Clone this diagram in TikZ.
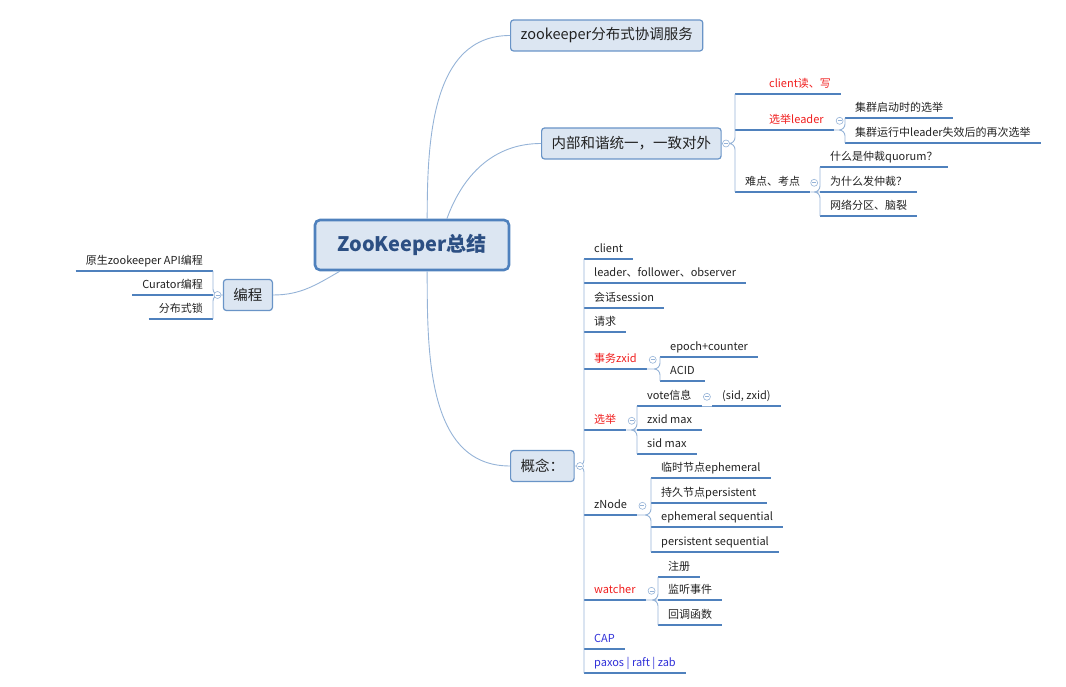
\documentclass[tikz,border=0pt]{standalone}
\usepackage{fontspec}
\setmainfont{Noto Sans CJK SC}
\usetikzlibrary{positioning}

\definecolor{boxblue}{HTML}{4F81BD}
\definecolor{boxfill}{HTML}{DCE6F2}
\definecolor{lineblue}{HTML}{95B3D7}
\definecolor{ulblue}{HTML}{4F81BD}
\definecolor{navy}{HTML}{2C4F83}
\definecolor{mmred}{HTML}{F01E1E}
\definecolor{mmblue}{HTML}{3030D8}
\definecolor{ink}{HTML}{222222}

\begin{document}
\begin{tikzpicture}[x=1pt, y=1pt,
    mainbox/.style={draw=boxblue, fill=boxfill, line width=2.6pt, rounded corners=5pt, minimum width=194pt, minimum height=50pt, text=navy, font=\fontsize{20}{22}\selectfont\bfseries},
    topicbox/.style={draw=boxblue!85, fill=boxfill, line width=1.2pt, rounded corners=3pt, minimum height=31pt, inner xsep=10pt, text=ink, font=\fontsize{14.5}{16}\selectfont},
    leafnode/.style={inner xsep=10pt, inner ysep=4pt, text height=8pt, text depth=2pt, text=ink, font=\fontsize{11}{13}\selectfont,
        append after command={(\tikzlastnode.south west) edge[uline] (\tikzlastnode.south east)}},
    fold/.style={circle, draw=lineblue, fill=white, line width=0.6pt, minimum size=7pt, inner sep=0pt,
        path picture={\draw[lineblue, line width=0.6pt] ([xshift=-2pt]path picture bounding box.center) -- ([xshift=2pt]path picture bounding box.center);}},
    trunk/.style={draw=lineblue, line width=0.9pt},
    twig/.style={draw=lineblue, line width=0.9pt, rounded corners=6pt},
    uline/.style={draw=ulblue, line width=1.6pt}
]
\useasboundingbox (0,0) rectangle (1066,686);

% main topics
\node[mainbox] (zk) at (412,441) {ZooKeeper总结};
\node[topicbox, anchor=west] (svc) at (510,650.5) {zookeeper分布式协调服务};
\node[topicbox, anchor=west] (inner) at (541,542.5) {内部和谐统一，一致对外};
\node[topicbox, anchor=east] (prog) at (273,391) {编程};
\node[topicbox, anchor=west] (cpt) at (510,220) {概念：};

\draw[trunk] (zk.60) to[out=90, in=180] (svc.west);
\draw[trunk] (zk.37) to[out=70, in=180] (inner.west);
\draw[trunk] (zk.-60) to[out=-90, in=180] (cpt.west);
\draw[trunk] (zk.-160) to[out=-150, in=0] (prog.east);

% inner
\node[leafnode, anchor=south west, text=mmred] (rw) at (735,592) {\hspace*{24pt}client读、写};
\node[leafnode, anchor=south west, text=mmred] (elect) at (735,556) {\hspace*{24pt}选举leader};
\node[leafnode, anchor=south west] (hard) at (735,494) {难点、考点};
\node[leafnode, anchor=south west] (boot) at (845,568) {集群启动时的选举};
\node[leafnode, anchor=south west] (rerun) at (845,543) {集群运行中leader失效后的再次选举};
\node[leafnode, anchor=south west] (quorum) at (820,519) {什么是仲裁quorum？};
\node[leafnode, anchor=south west] (why) at (820,494) {为什么发仲裁？};
\node[leafnode, anchor=south west] (split) at (820,470) {网络分区、脑裂};

\draw[twig] (inner.east) -| (rw.south west) (inner.east) -| (elect.south west) (inner.east) -| (hard.south west);
\draw[twig] (elect.south east) -| (boot.south west) (elect.south east) -| (rerun.south west);
\draw[twig] (hard.south east) -| (quorum.south west) (hard.south east) -- (why.south west) (hard.south east) -| (split.south west);

% prog
\node[leafnode, anchor=south east] (native) at (213,415) {原生zookeeper API编程};
\node[leafnode, anchor=south east] (curator) at (213,391) {Curator编程};
\node[leafnode, anchor=south east] (lock) at (213,367) {分布式锁};

\draw[twig] (prog.west) -| (native.south east) (prog.west) -- (curator.south east) (prog.west) -| (lock.south east);

% cpt
\node[leafnode, anchor=south west] (client) at (584,427) {client};
\node[leafnode, anchor=south west] (roles) at (584,403) {leader、follower、observer};
\node[leafnode, anchor=south west] (session) at (584,378) {会话session};
\node[leafnode, anchor=south west] (request) at (584,354) {请求};
\node[leafnode, anchor=south west, text=mmred] (txn) at (584,317) {事务zxid};
\node[leafnode, anchor=south west, text=mmred] (poll) at (584,256) {选举};
\node[leafnode, anchor=south west] (znode) at (584,171) {zNode};
\node[leafnode, anchor=south west, text=mmred] (watch) at (584,86) {watcher};
\node[leafnode, anchor=south west, text=mmblue] (cap) at (584,37) {CAP};
\node[leafnode, anchor=south west, text=mmblue] (algo) at (584,13) {paxos | raft | zab};

\node[leafnode, anchor=south west] (epoch) at (660,329) {epoch+counter};
\node[leafnode, anchor=south west] (acid) at (660,305) {ACID};
\node[leafnode, anchor=south west] (voteinfo) at (637,280) {vote信息};
\node[leafnode, anchor=south west] (sidzxid) at (712,280) {(sid, zxid)};
\node[leafnode, anchor=south west] (zxidmax) at (637,256) {zxid max};
\node[leafnode, anchor=south west] (sidmax) at (637,232) {sid max};
\node[leafnode, anchor=south west] (ephem) at (651,208) {临时节点ephemeral};
\node[leafnode, anchor=south west] (persist) at (651,183) {持久节点persistent};
\node[leafnode, anchor=south west] (ephseq) at (651,159) {ephemeral sequential};
\node[leafnode, anchor=south west] (perseq) at (651,134) {persistent sequential};
\node[leafnode, anchor=south west] (reg) at (658,109) {注册};
\node[leafnode, anchor=south west] (listen) at (658,86) {监听事件};
\node[leafnode, anchor=south west] (callback) at (658,61) {回调函数};

\draw[twig] (cpt.east) -| (client.south west) (cpt.east) -| (roles.south west) (cpt.east) -| (session.south west)
    (cpt.east) -| (request.south west) (cpt.east) -| (txn.south west) (cpt.east) -| (poll.south west)
    (cpt.east) -| (znode.south west) (cpt.east) -| (watch.south west) (cpt.east) -| (cap.south west) (cpt.east) -| (algo.south west);
\draw[twig] (txn.south east) -| (epoch.south west) (txn.south east) -| (acid.south west);
\draw[twig] (poll.south east) -| (voteinfo.south west) (poll.south east) -- (zxidmax.south west) (poll.south east) -| (sidmax.south west);
\draw[twig] (voteinfo.south east) -- (sidzxid.south west);
\draw[twig] (znode.south east) -| (ephem.south west) (znode.south east) -| (persist.south west)
    (znode.south east) -| (ephseq.south west) (znode.south east) -| (perseq.south west);
\draw[twig] (watch.south east) -| (reg.south west) (watch.south east) -- (listen.south west) (watch.south east) -| (callback.south west);

% fold marks
\node[fold, right=0.5pt of inner] (innerfold) {};
\node[fold, left=1.5pt of prog] (progfold) {};
\node[fold, right=1.5pt of cpt] (cptfold) {};
\node[fold, right=2pt of elect] (electfold) {};
\node[fold, right=0pt of hard] (hardfold) {};
\node[fold, right=2pt of txn] (txnfold) {};
\node[fold, right=1.5pt of poll] (pollfold) {};
\node[fold, right=1.5pt of voteinfo] (votefold) {};
\node[fold, right=1.5pt of znode] (znodefold) {};
\node[fold, right=2pt of watch] (watchfold) {};

\end{tikzpicture}
\end{document}
